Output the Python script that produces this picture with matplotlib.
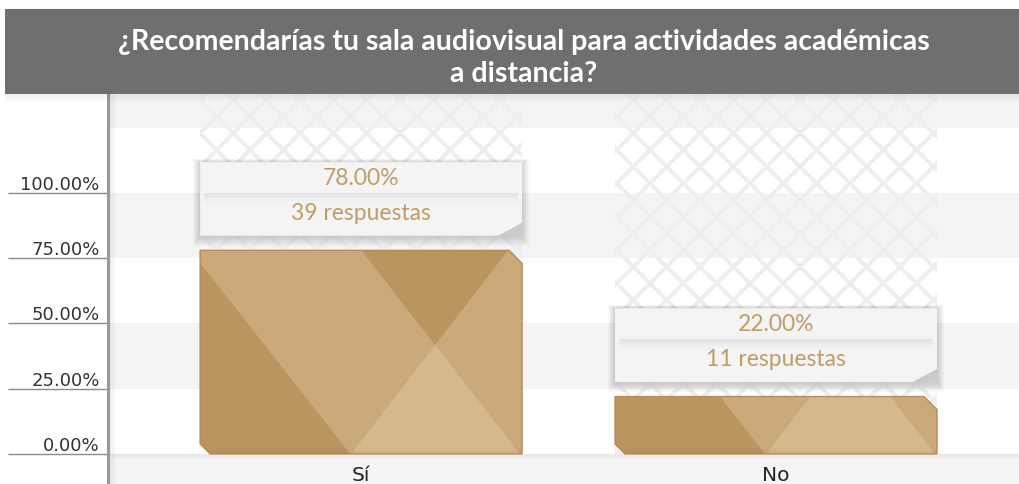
import matplotlib.pyplot as plt
import numpy as np
from matplotlib.patches import Polygon, Rectangle

plt.rcParams['font.family'] = ['Lato', 'DejaVu Sans']
plt.rcParams['hatch.linewidth'] = 2.8

# data
categories = ['Sí', 'No']
percentages = [78.0, 22.0]
responses = [39, 11]
tick_values = [0, 25, 50, 75, 100]
title = '¿Recomendarías tu sala audiovisual para actividades académicas\na distancia?'

dark = '#bb9560'
mid = '#caa97a'
light = '#d3b98c'
gold_text = '#c29c65'

W, H = 1020, 485
fig = plt.figure(figsize=(W / 100, H / 100), dpi=100)

# axes: x 108..1020 px, y 95..485 px
ax = fig.add_axes([108 / W, 0, 912 / W, 390 / H])
ymin, ymax = -11.5, 137.9
ax.set_xlim(-0.61, 1.588)
ax.set_ylim(ymin, ymax)
px_x = 912 / (1.588 + 0.61)        # pixels per x unit
px_y = 390 / (ymax - ymin)         # pixels per percent

# alternating bands
for k, y0 in enumerate(range(0, 150, 25)):
    ax.axhspan(y0, y0 + 25, color='#f4f4f4' if k % 2 else 'white', lw=0, zorder=0)
ax.axhspan(ymin, 0, color='#f5f5f5', lw=0, zorder=0)

# diamond pattern columns behind the bars
width = 0.776
xs = np.arange(len(categories))
ax.bar(xs, ymax, width, color='none', edgecolor='#eeeeee', hatch='x', lw=0, zorder=1)

# bars with facets
bars = ax.bar(xs, percentages, width, color=mid, lw=0, zorder=3)
facets = [
    ([(0, 0), (150, 0), (0, 191)], dark),
    ([(151, 0), (320, 0), (235, 109)], light),
    ([(235, 109), (235 + 84 * 4, 109 + 436), (235 - 85 * 4, 109 + 436)], dark),
]
for bar in bars:
    x0 = bar.get_x()
    x1 = x0 + bar.get_width()
    top = bar.get_height()
    outline = [(x0, 10 / px_y), (x0 + 10 / px_x, 0), (x1, 0), (x1, top - 13 / px_y),
               (x1 - 13 / px_x, top), (x0, top)]
    clip = Polygon(outline, closed=True, transform=ax.transData, facecolor='none',
                   edgecolor='#b58d57', lw=1, zorder=6)
    ax.add_patch(clip)
    bar.set_clip_path(clip)
    for pts, c in facets:
        poly = Polygon([(x0 + u / px_x, v / px_y) for u, v in pts], color=c, lw=0, zorder=4)
        ax.add_patch(poly)
        poly.set_clip_path(clip)
    # darker foot of the bar
    for k in range(6):
        r = Rectangle((x0, k / px_y), x1 - x0, 1 / px_y, color='black',
                      alpha=0.05 * (6 - k) / 6, lw=0, zorder=5)
        ax.add_patch(r)
        r.set_clip_path(clip)

# shadow at top of bottom strip
for k in range(5):
    ax.axhspan(-(k + 1) / px_y, -k / px_y, color='black', alpha=0.05 * (5 - k) / 5, lw=0, zorder=2)

# label boxes
for xc, val, n in zip(xs, percentages, responses):
    b0 = val + 5.6
    b1 = b0 + 28.2
    split = b0 + 16.5
    x0 = xc - width / 2
    x1 = xc + width / 2
    for k in range(1, 8):
        d, dy = k / px_x, k / px_y
        ax.add_patch(Polygon([(x0 - d, b0 - 1.5 * dy), (x1 + d, b0 - 1.5 * dy),
                              (x1 + d, b1 + 0.5 * dy), (x0 - d, b1 + 0.5 * dy)],
                             color='black', alpha=0.022, lw=0, zorder=6))
    box = [(x0, b0), (x1 - 24 / px_x, b0), (x1, b0 + 13 / px_y), (x1, b1), (x0, b1)]
    ax.add_patch(Polygon(box, facecolor='#f4f4f4', lw=0, zorder=7))
    for k in range(12):
        ax.add_patch(Rectangle((x0 + 4 / px_x, split - (k + 1) / px_y), width - 8 / px_x,
                               1 / px_y, color='black', alpha=0.07 * (1 - k / 12) ** 1.5,
                               lw=0, zorder=8))
    ax.text(xc, b0 + 22.2, f'{val:.2f}%', ha='center', va='center', fontsize=16.5,
            color=gold_text, zorder=9)
    ax.text(xc, b0 + 8.8, f'{n} respuestas', ha='center', va='center', fontsize=16.5,
            color=gold_text, zorder=9)

# axis styling
for s in ['top', 'right', 'bottom']:
    ax.spines[s].set_visible(False)
ax.spines['left'].set_color('#9a9a9a')
ax.spines['left'].set_linewidth(2.2)
ax.spines['left'].set_zorder(10)
for k in range(1, 9):
    ax.axvline(-0.61 + k / px_x, color='black', alpha=0.05 * (9 - k) / 9, lw=1, zorder=2)

ax.set_yticks(tick_values, labels=[f'{v:.2f}%' for v in tick_values])
ax.tick_params(axis='y', length=72, width=1, color='#8a8a8a', pad=-66, labelsize=13,
               labelcolor='#333333')
for lab in ax.get_yticklabels():
    lab.set_verticalalignment('bottom')
    lab.set_fontfamily('DejaVu Sans')

ax.set_xticks(xs, labels=categories)
ax.tick_params(axis='x', length=0, pad=-13.5, labelsize=14.5, labelcolor='#222222')
for lab in ax.get_xticklabels():
    lab.set_fontfamily('DejaVu Sans')

# title band
fig.patches.append(Rectangle((5 / W, 1 - 95 / H), 1015 / W, 85 / H, transform=fig.transFigure,
                             color='#6f706e', lw=0))
for k in range(8):
    fig.patches.append(Rectangle((5 / W, 1 - (96 + k) / H), 1015 / W, 1 / H,
                                 transform=fig.transFigure, color='black',
                                 alpha=0.06 * (8 - k) / 8, lw=0))
fig.text(524 / W, 1 - 58 / H, title, ha='center', va='center', color='white', fontsize=20.5,
         fontweight='bold', linespacing=1.25)

fig.savefig('out.png', dpi=100)
